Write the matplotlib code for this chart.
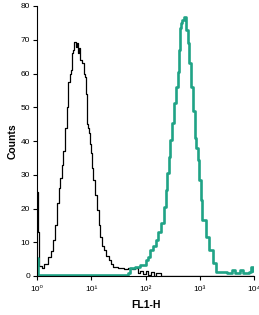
import numpy as np
import matplotlib
matplotlib.use('Agg')
import matplotlib.pyplot as plt

plt.rcParams['font.family'] = ['Liberation Sans Narrow', 'Liberation Sans', 'DejaVu Sans']

# channel positions (log10 of FL1-H) and counts
isotype_log = [0.0, 0.012, 0.04, 0.087, 0.13, 0.2, 0.25, 0.296, 0.33, 0.365, 0.40, 0.426,
               0.46, 0.487, 0.52, 0.55, 0.58, 0.60, 0.624, 0.654, 0.67, 0.69, 0.71, 0.735,
               0.75, 0.765, 0.79, 0.828, 0.86, 0.889, 0.905, 0.92, 0.94, 0.963, 0.98, 1.0,
               1.02, 1.04, 1.07, 1.105, 1.135, 1.167, 1.2, 1.23, 1.27, 1.32, 1.36, 1.41,
               1.5, 1.6, 1.685, 1.75, 1.815, 1.86, 1.9, 1.95, 2.0, 2.05, 2.1, 2.15, 2.2,
               2.28, 4.0]
isotype_counts = [25, 13, 3, 2.4, 3.5, 5.6, 7.5, 10.7, 15, 21.7, 26, 29,
                  33, 37, 44, 50, 57.6, 60, 61, 66, 67, 69.4, 68, 69,
                  66, 67.6, 64, 63, 60, 59, 54, 45, 44, 42.4, 39, 36.5,
                  32, 28.5, 24, 19.6, 15, 11.6, 9, 7.7, 6, 4.7, 3.5, 2.7,
                  2.4, 2.2, 2.4, 2.0, 2.4, 1.0, 1.5, 0.5, 1.5, 0.3, 1.2, 0, 0.8,
                  0, 0]

stained_log = [0.0, 0.02, 1.67, 1.72, 1.8, 1.9, 2.0, 2.05, 2.09, 2.14, 2.185, 2.23, 2.28,
               2.34, 2.37, 2.40, 2.43, 2.46, 2.48, 2.52, 2.56, 2.59, 2.61, 2.63, 2.66,
               2.68, 2.71, 2.74, 2.75, 2.78, 2.80, 2.83, 2.88, 2.91, 2.93, 2.96, 2.99,
               3.02, 3.05, 3.11, 3.17, 3.24, 3.30, 3.5, 3.6, 3.65, 3.75, 3.8, 3.9,
               3.95, 3.98, 4.0]
stained_counts = [5.3, 0.3, 0.8, 2.4, 2.8, 3.3, 4.7, 5.5, 7.7, 9, 10.7, 13, 15.7,
                  20.5, 25.5, 30.6, 35.3, 40.4, 45.4, 51.3, 56, 60.5, 67, 73.6, 75,
                  76, 76.6, 76, 73, 69, 63, 56, 49, 41, 38, 34.4, 28.5,
                  22.5, 16.6, 11.6, 7.7, 3.9, 1.2, 1.0, 1.8, 1.0, 1.8, 1.0, 1.3,
                  2.8, 1.5, 1.5]

x_ticks = [1, 10, 100, 1000, 10000]
x_ticklabels = ['10⁰', '10¹', '10²', '10³', '10⁴']
y_ticks = [0, 10, 20, 30, 40, 50, 60, 70, 80]

fig = plt.figure(figsize=(2.59, 3.15), dpi=100)
ax = fig.add_axes([37 / 259, 39 / 315, 217 / 259, 270 / 315])

ax.step(10 ** np.array(isotype_log), isotype_counts, where='post',
        color='black', linewidth=0.9)
ax.step(10 ** np.array(stained_log), stained_counts, where='post',
        color='#20a386', linewidth=1.9)

ax.set_xscale('log')
ax.set_xlim(1, 10000)
ax.set_ylim(0, 80)
ax.set_xticks(x_ticks)
ax.set_xticklabels(x_ticklabels)
ax.minorticks_off()
ax.set_yticks(y_ticks)
ax.tick_params(axis='both', labelsize=6, length=3, width=0.8, colors='black')
ax.tick_params(axis='x', pad=4)
ax.tick_params(axis='y', pad=2)

for side in ['top', 'right']:
    ax.spines[side].set_visible(False)
for side in ['left', 'bottom']:
    ax.spines[side].set_linewidth(0.8)

ax.set_xlabel('FL1-H', fontsize=7.5, fontweight='bold', family='Liberation Sans', labelpad=5)
ax.set_ylabel('Counts', fontsize=7.5, fontweight='bold', family='Liberation Sans', labelpad=2)

fig.savefig('out.png', dpi=100)
